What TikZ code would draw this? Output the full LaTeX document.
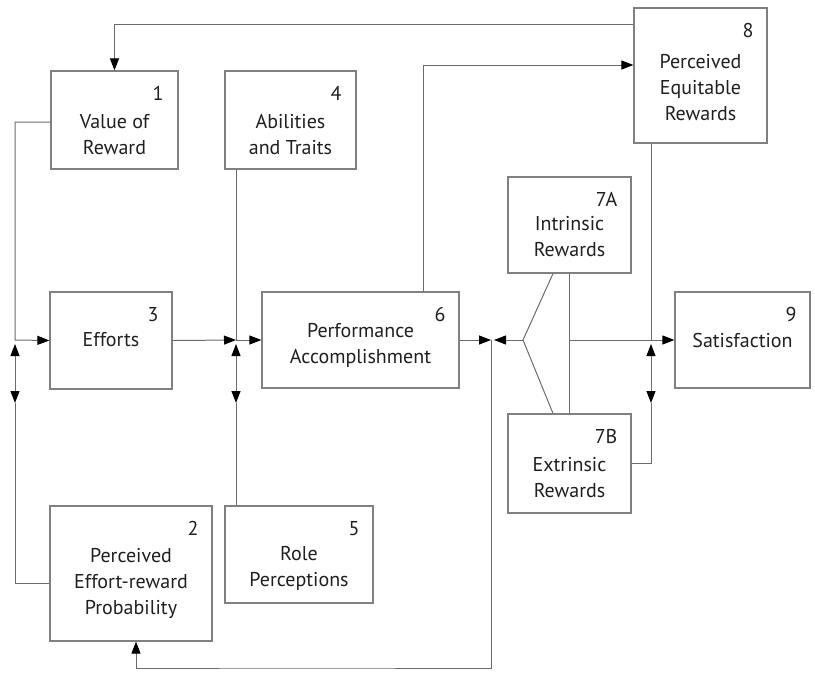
\documentclass[tikz,border=0pt]{standalone}
\usepackage{fontspec}
\setmainfont{PT Sans}
\usetikzlibrary{arrows.meta,calc}
\begin{document}
\begin{tikzpicture}[x=1pt,y=-1pt,
  box/.style={draw=black!50,line width=1.2pt,rectangle,inner sep=0pt},
  txt/.style={align=center,font=\fontsize{20}{26}\selectfont,text=black!88,inner sep=0pt},
  num/.style={anchor=north east,font=\fontsize{20}{22}\selectfont,text=black!88,inner sep=0pt},
  ln/.style={draw=black!58,line width=1pt},
  arr/.style={ln,-{Triangle[length=12pt,width=9pt,color=black]}},
  dbl/.style={ln,{Triangle[length=12pt,width=9pt,color=black]}-{Triangle[length=12pt,width=9pt,color=black]}}]
\useasboundingbox (0,0) rectangle (815,673);
% boxes
\node[box,minimum width=127pt,minimum height=98pt] (b1) at (114.5,120) {};
\node[box,minimum width=131pt,minimum height=98pt] (b4) at (290.5,120) {};
\node[box,minimum width=133pt,minimum height=135pt] (b8) at (700.5,75.5) {};
\node[box,minimum width=122pt,minimum height=97pt] (b3) at (111,340.5) {};
\node[box,minimum width=197pt,minimum height=96pt] (b6) at (360.5,340) {};
\node[box,minimum width=123pt,minimum height=96pt] (b7a) at (569.5,225) {};
\node[box,minimum width=123pt,minimum height=99pt] (b7b) at (569.5,463.5) {};
\node[box,minimum width=135pt,minimum height=96pt] (b9) at (742.5,340) {};
\node[box,minimum width=162pt,minimum height=135pt] (b2) at (131,573.5) {};
\node[box,minimum width=148pt,minimum height=97pt] (b5) at (299,554.5) {};
% texts
\node[txt] (t1) at (114.5,134.5) {Value of\\Reward};
\node[txt] (t4) at (290.5,134.5) {Abilities\\and Traits};
\node[txt] (t8) at (700.5,88) {Perceived\\Equitable\\Rewards};
\node[txt] (t3) at (111,340) {Efforts};
\node[txt] (t6) at (360.5,345) {Performance\\Accomplishment};
\node[txt] (t7a) at (569.5,237) {Intrinsic\\Rewards};
\node[txt] (t7b) at (569.5,478) {Extrinsic\\Rewards};
\node[txt] (t9) at (742.5,340) {Satisfaction};
\node[txt] (t2) at (131,583) {Perceived\\Effort-reward\\Probability};
\node[txt] (t5) at (299,568) {Role\\Perceptions};
% numbers
\node[num] (n1) at ([shift={(-15,16)}]b1.north east) {1};
\node[num] (n4) at ([shift={(-15,16)}]b4.north east) {4};
\node[num] (n8) at ([shift={(-14,16)}]b8.north east) {8};
\node[num] (n3) at ([shift={(-14,16)}]b3.north east) {3};
\node[num] (n6) at ([shift={(-14,16)}]b6.north east) {6};
\node[num] (n7a) at ([shift={(-14,16)}]b7a.north east) {7A};
\node[num] (n7b) at ([shift={(-14,16)}]b7b.north east) {7B};
\node[num] (n9) at ([shift={(-14,16)}]b9.north east) {9};
\node[num] (n2) at ([shift={(-14,16)}]b2.north east) {2};
\node[num] (n5) at ([shift={(-14,16)}]b5.north east) {5};
% junction coordinates
\coordinate (jL) at (15,340);
\coordinate (uL) at (15,344);
\coordinate (dL) at (15,403);
\coordinate (jM) at (236,340);
\coordinate (uM) at (236,344);
\coordinate (dM) at (236,403);
\coordinate (jR) at (491,340);
\coordinate (jRl) at (494,340);
\coordinate (jW) at (523,340);
\coordinate (j9) at (651,340);
\coordinate (uR) at (651,344);
\coordinate (dR) at (651,403);
\coordinate (top) at (0,24);
\coordinate (bot) at (300,668);
% connectors
\draw[arr] (b8.west |- top) -| (b1.north);
\draw[arr] ([xshift=62.5pt]b6.north) |- ([yshift=10.5pt]b8.west);
\draw[arr] ([yshift=-2pt]b1.west) -| (jL) -- (b3.west);
\draw[ln] ([yshift=-9.5pt]b2.west) -| (dL);
\draw[dbl] (dL) -- (uL);
\draw[arr] (b3.east) -- (jM);
\draw[arr] (jM) -- (b6.west);
\draw[ln] (b4.south -| jM) -- (jM);
\draw[ln] (b5.north -| jM) -- (dM);
\draw[dbl] (dM) -- (uM);
\draw[arr] (b6.east) -- (jR);
\draw[arr] (jW) -- (jRl);
\draw[ln] ([xshift=-16.5pt]b7a.south) -- (jW) -- ([xshift=-16.5pt]b7b.north);
\draw[ln] (b7a.south) -- (b7b.north);
\draw[arr] (b7a.south |- jR) -- (b9.west);
\draw[ln] (b8.south -| j9) -- (j9);
\draw[dbl] (dR) -- (uR);
\draw[ln] (dR) |- (b7b.east);
\draw[arr] (jR) |- (bot) -| ([xshift=5pt]b2.south);
\end{tikzpicture}
\end{document}
